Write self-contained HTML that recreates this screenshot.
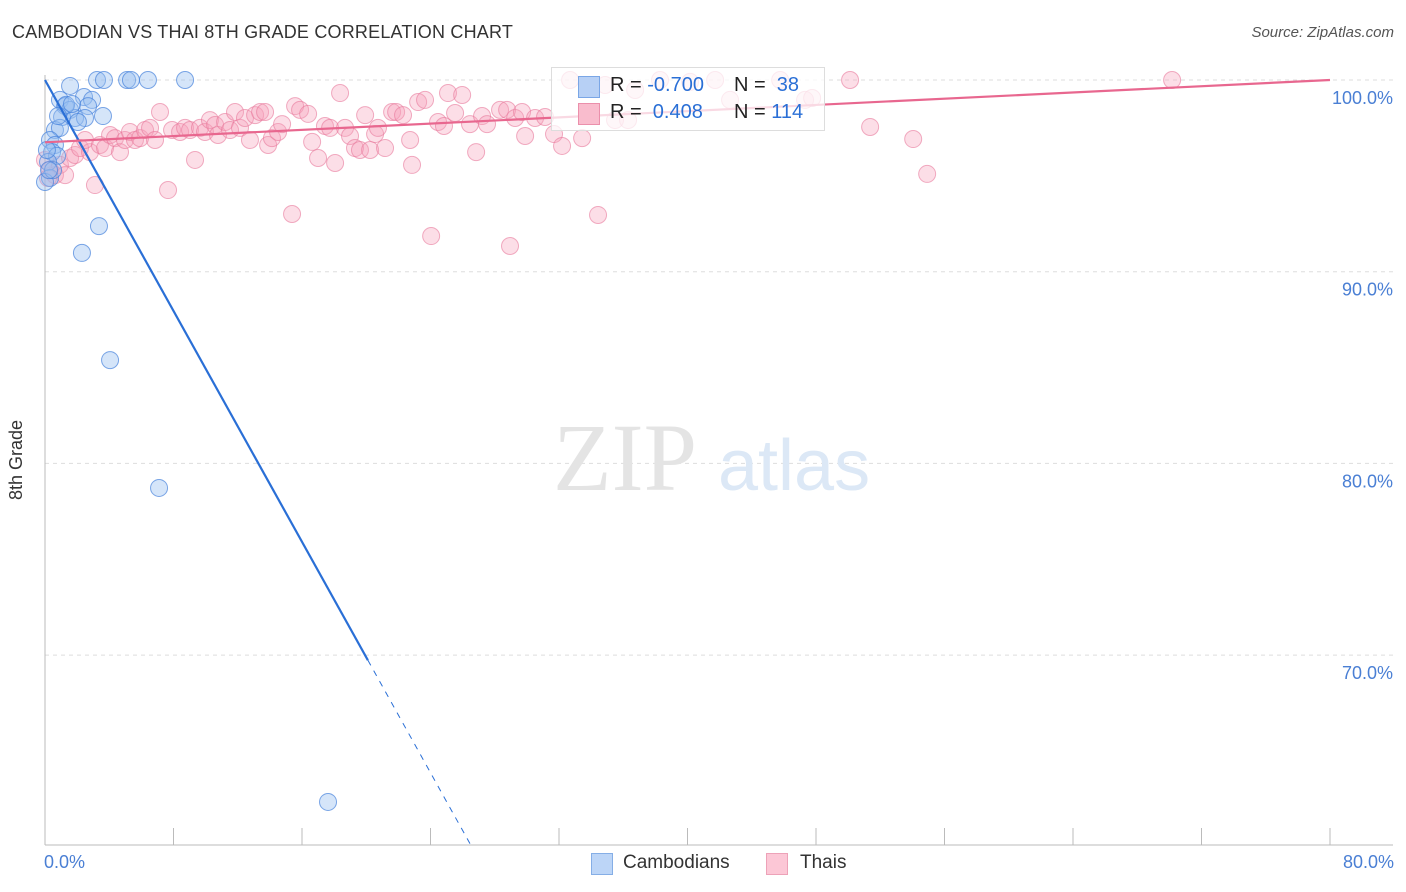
<!DOCTYPE html>
<html><head><meta charset="utf-8"><style>
body{margin:0;background:#fff;font-family:"Liberation Sans",sans-serif;}
#wrap{position:relative;width:1406px;height:892px;overflow:hidden;}
.t{position:absolute;white-space:nowrap;}
</style></head><body>
<div id="wrap">
<div class="t" style="left:12px;top:22px;font-size:18px;color:#333;letter-spacing:0.2px">CAMBODIAN VS THAI 8TH GRADE CORRELATION CHART</div>
<div class="t" style="right:12px;top:24px;font-size:15px;color:#555;font-style:italic">Source: ZipAtlas.com</div>
<svg id="svg" width="1406" height="892" style="position:absolute;left:0;top:0"></svg>
</div>
<script>
const blueX=[1.56,3.24,3.67,5.11,5.35,6.41,8.72,0.93,2.43,2.93,1.25,1.56,2.68,3.61,1.06,1.87,2.49,0.62,0.93,0.31,0.62,0.44,0.75,0.19,0.31,0,3.36,2.30,4.05,7.10,17.62,1.31,1.68,0.81,2.05,0.12,0.5,0.25];
const blueY=[99.69,100,100,100,100,100,100,98.96,99.11,98.96,98.64,98.44,98.64,98.12,98.07,98.02,98.02,97.39,97.5,96.87,96.61,96.24,96.04,95.72,94.89,94.68,92.38,90.98,85.39,78.72,62.34,98.7,98.75,98.12,97.81,96.35,95.3,95.3];
const pinkX=[0,0.31,0.62,0.93,1.25,1.56,1.87,2.18,2.80,3.11,2.49,3.42,3.74,4.05,4.36,4.67,4.98,5.29,5.60,5.92,6.23,6.54,6.85,7.16,7.66,7.91,8.41,8.72,9.03,9.34,9.65,9.96,10.27,10.59,10.77,11.21,11.52,11.83,12.14,12.45,12.76,13.08,13.39,13.70,13.89,14.13,14.51,14.76,15.38,15.57,15.88,16.38,16.63,17.0,17.43,17.75,18.06,18.37,18.68,18.99,19.30,19.61,19.93,20.24,20.55,20.73,21.17,21.61,21.86,22.29,22.73,22.85,23.23,23.66,24.04,24.47,24.84,25.09,25.53,25.97,26.46,26.84,27.21,27.52,28.33,28.77,28.95,29.27,29.7,29.89,30.51,31.13,31.69,32.19,32.69,33.44,33.94,34.43,34.87,35.49,36.3,36.74,38.29,40.16,41.72,42.65,45.77,47.32,47.76,50.12,51.37,54.05,54.92,70.17,0.19];
const pinkY=[95.83,95.31,95.04,95.57,95.04,95.93,96.09,96.45,96.24,94.52,96.87,96.61,96.45,97.13,96.97,96.24,96.87,97.29,96.87,96.97,97.39,97.5,96.87,98.33,94.26,97.39,97.29,97.5,97.39,95.83,97.5,97.29,97.91,97.65,97.13,97.81,97.39,98.33,97.5,98.02,96.87,98.17,98.33,98.33,96.61,96.97,97.29,97.7,93.01,98.64,98.44,98.23,96.77,95.93,97.6,97.5,95.67,99.32,97.5,97.08,96.45,96.35,98.17,96.35,97.18,97.5,96.45,98.33,98.33,98.17,96.87,95.57,98.85,98.96,91.86,97.81,97.6,99.32,98.28,99.22,97.7,96.24,98.12,97.7,98.44,98.44,91.34,98.02,98.33,97.08,98.02,98.07,97.18,96.56,100,96.97,98.33,92.96,99.74,97.91,97.91,99.48,100,99.9,100,98.96,100,98.96,99.06,100,97.55,96.92,95.1,100,94.89];
const yTicks=[100,90,80,70];
const yTickLabels=["100.0%","90.0%","80.0%","70.0%"];
const blueLine=[0,100,26.5,60.1];
const pinkLine=[0,96.75,80,100];

const X0=45,X1=1330,PX=(X1-X0)/80;
const xs=v=>X0+v*PX;
const ys=v=>80+(100-v)*19.17;
const svg=document.getElementById('svg');
const NS='http://www.w3.org/2000/svg';
function mk(tag,attrs,parent){const e=document.createElementNS(NS,tag);for(const k in attrs)e.setAttribute(k,attrs[k]);(parent||svg).appendChild(e);return e;}
yTicks.forEach((t,i)=>{
 const g=mk('line',{x1:X0,x2:1393,y1:ys(t),y2:ys(t),stroke:'#ddd','stroke-dasharray':'4,4'});
 
 
 const tx=mk('text',{x:1393,y:ys(t)+24,'text-anchor':'end','font-size':18,fill:'#4a7fd4','font-family':'Liberation Sans, sans-serif'});
 tx.textContent=yTickLabels[i];
 
 
});
const ax=mk('line',{x1:X0,x2:X0,y1:75,y2:845,stroke:'#bbb'});


const bx=mk('line',{x1:X0,x2:1393,y1:845,y2:845,stroke:'#bbb'});


for(let i=1;i<=10;i++){const tk=mk('line',{x1:xs(i*8),x2:xs(i*8),y1:828,y2:845,stroke:'#bbb'});
 
 }
const wm=mk('text',{x:553,y:490,'font-size':96,fill:'#e4e4e4','font-family':'Liberation Serif, serif'});wm.textContent='ZIP';


const wm2=mk('text',{x:718,y:490,'font-size':72,fill:'#dce8f6','font-family':'Liberation Sans, sans-serif'});wm2.textContent='atlas';


pinkX.forEach((v,i)=>{const c=mk('circle',{cx:xs(v),cy:ys(pinkY[i]),r:8.5,fill:'rgba(247,160,185,0.35)',stroke:'rgba(232,120,155,0.6)','stroke-width':1});
 
 });
blueX.forEach((v,i)=>{const c=mk('circle',{cx:xs(v),cy:ys(blueY[i]),r:8.5,fill:'rgba(150,190,240,0.4)',stroke:'rgba(70,130,220,0.7)','stroke-width':1});
 
 });
const bxEnd=20.1, slope=(blueLine[3]-blueLine[1])/(blueLine[2]-blueLine[0]);
const bl=mk('line',{x1:xs(blueLine[0]),y1:ys(blueLine[1]),x2:xs(bxEnd),y2:ys(blueLine[1]+slope*bxEnd),stroke:'#2a6fd6','stroke-width':2.2});


const bd=mk('line',{x1:xs(bxEnd),y1:ys(blueLine[1]+slope*bxEnd),x2:xs(blueLine[2]),y2:ys(blueLine[3]),stroke:'#2a6fd6','stroke-width':1,'stroke-dasharray':'6,6'});


const pl=mk('line',{x1:xs(pinkLine[0]),y1:ys(pinkLine[1]),x2:xs(pinkLine[2]),y2:ys(pinkLine[3]),stroke:'#e8678f','stroke-width':2.2});


</script>
<div class="t" style="left:551px;top:67px;width:272px;height:62px;border:1px solid #ddd;background:rgba(255,255,255,0.75);font-size:20px;color:#222">
 <div style="position:absolute;left:26px;top:8px;width:20px;height:20px;background:#b7d0f5;border:1px solid #7aa6e6"></div>
 <div style="position:absolute;left:58px;top:6px">R = <span style="color:#2a6fd6">-0.700</span></div>
 <div style="position:absolute;left:182px;top:6px">N = &nbsp;<span style="color:#2a6fd6">38</span></div>
 <div style="position:absolute;left:26px;top:35px;width:20px;height:20px;background:#f9bccd;border:1px solid #eb8fab"></div>
 <div style="position:absolute;left:58px;top:33px">R = &nbsp;<span style="color:#2a6fd6">0.408</span></div>
 <div style="position:absolute;left:182px;top:33px">N = <span style="color:#2a6fd6">114</span></div>
</div>
<div class="t" style="left:44px;top:852px;font-size:18px;color:#4a7fd4">0.0%</div>
<div class="t" style="right:12px;top:852px;font-size:18px;color:#4a7fd4">80.0%</div>
<div class="t" style="left:6px;top:500px;font-size:18px;color:#333;transform:rotate(-90deg);transform-origin:0 0">8th Grade</div>
<div class="t" style="left:591px;top:853px;width:20px;height:20px;background:#bcd5f7;border:1px solid #85aee6"></div>
<div class="t" style="left:623px;top:852px;font-size:19px;color:#333">Cambodians</div>
<div class="t" style="left:766px;top:853px;width:20px;height:20px;background:#fcc7d6;border:1px solid #eda2b8"></div>
<div class="t" style="left:800px;top:852px;font-size:19px;color:#333">Thais</div>
</body></html>
